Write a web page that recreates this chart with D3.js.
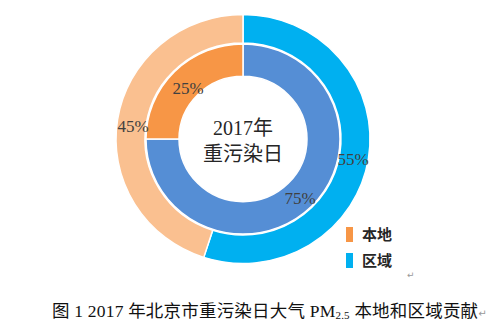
<!DOCTYPE html>
<html><head><meta charset="utf-8">
<script src="https://cdn.jsdelivr.net/npm/d3@7"></script>
<style>body{margin:0;background:#fff}svg{display:block}</style>
</head><body>
<svg id="c" width="500" height="326"></svg>
<script>
const categories = ["区域", "本地"];
const outerValues = [55, 45];
const innerValues = [75, 25];
const outerLabels = ["55%", "45%"];
const innerLabels = ["75%", "25%"];
const centerText = ["2017年", "重污染日"];
const legendLabels = ["本地", "区域"];
const caption = "图 1 2017 年北京市重污染日大气 PM";

const svg = d3.select("#c");
const cx = 243, cy = 139;
const g = svg.append("g").attr("transform", `translate(${cx},${cy}) scale(1,0.98)`);
const pie = d3.pie().sort(null).value(d => d);

const outerColors = d3.scaleOrdinal().domain(categories).range(["#00B0F0", "#FAC090"]);
const innerColors = d3.scaleOrdinal().domain(categories).range(["#558ED5", "#F79646"]);

const outerArc = d3.arc().innerRadius(98).outerRadius(127);
const innerArc = d3.arc().innerRadius(64).outerRadius(97);

g.selectAll("path.o").data(pie(outerValues)).join("path")
  .attr("d", outerArc).attr("fill", (d, i) => outerColors(categories[i]))
  .attr("stroke", "#fff").attr("stroke-width", 1.5);
g.selectAll("path.i").data(pie(innerValues)).join("path")
  .attr("d", innerArc).attr("fill", (d, i) => innerColors(categories[i]))
  .attr("stroke", "#fff").attr("stroke-width", 1.5);

// labels
const outerLabelPos = [[353, 159], [133, 126]];
const innerLabelPos = [[300, 198], [188, 88]];
const lblStyle = sel => sel.attr("font-family", "'Liberation Serif','Times New Roman',serif")
  .attr("font-size", 17).attr("fill", "#404040").attr("text-anchor", "middle");
outerLabels.forEach((t, i) => {
  svg.append("text").attr("x", outerLabelPos[i][0]).attr("y", outerLabelPos[i][1] + 6).text(t).call(lblStyle);
});
innerLabels.forEach((t, i) => {
  svg.append("text").attr("x", innerLabelPos[i][0]).attr("y", innerLabelPos[i][1] + 6).text(t).call(lblStyle);
});

// center text
centerText.forEach((t, i) => {
  svg.append("text").attr("x", cx).attr("y", 135 + i * 26).attr("text-anchor", "middle")
    .attr("font-family", "'Liberation Serif','Noto Sans CJK SC',serif")
    .attr("font-size", 20).attr("fill", "#262626").text(t);
});

// legend
const legendColors = ["#F79646", "#00B0F0"];
legendLabels.forEach((t, i) => {
  const y = 227 + i * 26;
  svg.append("rect").attr("x", 346).attr("y", y).attr("width", 7).attr("height", 15).attr("fill", legendColors[i]);
  svg.append("text").attr("x", 362).attr("y", y + 13).attr("font-family", "'Noto Sans CJK SC',sans-serif")
    .attr("font-size", 15).attr("font-weight", "bold").attr("fill", "#262626").text(t);
});
svg.append("text").attr("x", 407).attr("y", 278).attr("font-size", 9).attr("fill", "#999")
  .attr("font-family", "'DejaVu Sans',sans-serif").text("↵");

// caption
const cap = svg.append("text").attr("x", 52).attr("y", 317)
  .attr("font-family", "'Liberation Serif','Noto Sans CJK SC',serif").attr("font-size", 17.5)
  .attr("letter-spacing", 0.2).attr("fill", "#111");
cap.append("tspan").text(caption);
cap.append("tspan").attr("font-size", 11).attr("dy", 2).text("2.5");
cap.append("tspan").attr("dy", -2).text(" 本地和区域贡献");
cap.append("tspan").attr("font-size", 10).attr("fill", "#999").attr("font-family", "'DejaVu Sans',sans-serif").text("↵");
</script>
</body></html>
